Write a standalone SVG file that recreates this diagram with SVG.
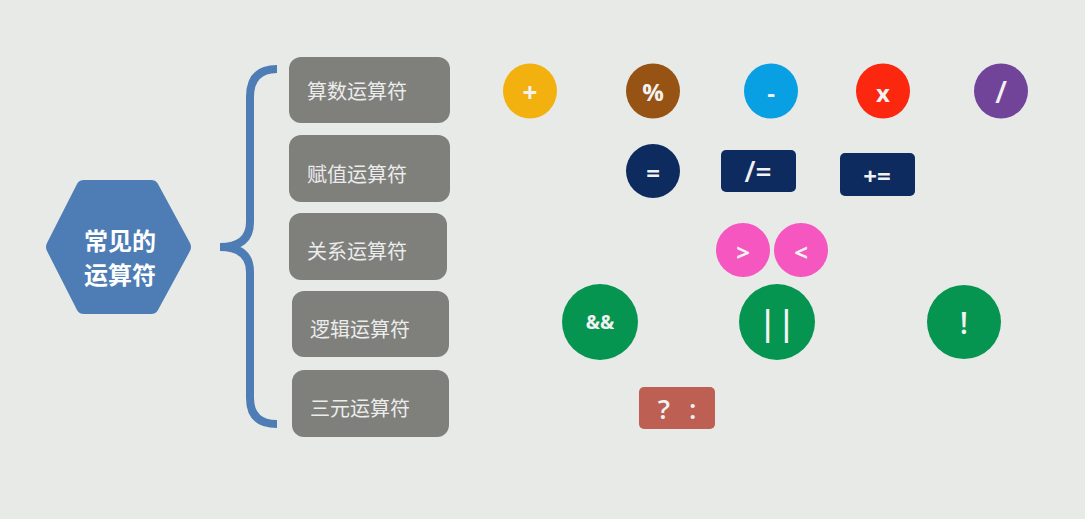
<svg xmlns="http://www.w3.org/2000/svg" width="1085" height="519" viewBox="0 0 1085 519">
<style>
.cat rect{fill:#7f807c}
.cat text{font-family:"Noto Sans CJK SC","Noto Sans",sans-serif;font-size:20px;fill:#ececec;dominant-baseline:central}
.op text{font-family:"Open Sans","Noto Sans",sans-serif;fill:#f2f2f2;text-anchor:middle;dominant-baseline:central;font-weight:bold}
.op text.thin{font-weight:600}
.hub text{font-family:"Noto Sans CJK SC",sans-serif;font-size:24px;font-weight:bold;fill:#ffffff;text-anchor:middle;dominant-baseline:central}
</style>
<rect width="1085" height="519" fill="#e8eae7"/>
<g id="hub" class="hub">
<path d="M47,251 Q45,247 47,243 L77,184 Q79,180 84,180 L151,180 Q156,180 158,184 L190,243 Q192,247 190,251 L158,310 Q156,314 151,314 L84,314 Q79,314 77,310 Z" fill="#4d7db4"/>
<text x="120" y="239">常见的</text>
<text x="120" y="273">运算符</text>
</g>
<g id="connectors">
<path d="M277,69 Q250,69 250,97 L250,222 Q250,247 220,247 Q250,247 250,272 L250,398 Q250,424 277,424" fill="none" stroke="#4d7db4" stroke-width="8"/>
</g>
<g id="cat-arith" class="cat"><rect x="289" y="57" width="161" height="66" rx="12"/><text x="307" y="90">算数运算符</text></g>
<g id="cat-assign" class="cat"><rect x="289" y="135" width="161" height="67" rx="12"/><text x="307" y="173">赋值运算符</text></g>
<g id="cat-rel" class="cat"><rect x="289" y="213" width="158" height="67" rx="12"/><text x="307" y="250">关系运算符</text></g>
<g id="cat-logic" class="cat"><rect x="292" y="291" width="157" height="66" rx="12"/><text x="310" y="328">逻辑运算符</text></g>
<g id="cat-ternary" class="cat"><rect x="292" y="370" width="157" height="67" rx="12"/><text x="310" y="407">三元运算符</text></g>
<g id="op-plus" class="op"><ellipse cx="530" cy="91" rx="27" ry="27.5" fill="#f2b10f"/><text x="530" y="92" font-size="26">+</text></g>
<g id="op-mod" class="op"><ellipse cx="653" cy="91" rx="27" ry="27.5" fill="#975313"/><text x="653" y="91" font-size="24">%</text></g>
<g id="op-minus" class="op"><ellipse cx="771" cy="91" rx="27" ry="27.5" fill="#08a0e2"/><text x="771" y="92" font-size="24">-</text></g>
<g id="op-mul" class="op"><ellipse cx="883" cy="91" rx="27" ry="27.5" fill="#fb270f"/><text x="883" y="92" font-size="24">x</text></g>
<g id="op-div" class="op"><ellipse cx="1001" cy="91" rx="27" ry="27.5" fill="#724499"/><text class="thin" x="1001" y="91" font-size="30">/</text></g>
<g id="op-eq" class="op"><ellipse cx="653" cy="171" rx="27" ry="27" fill="#0d2b5e"/><text x="653" y="172" font-size="24">=</text></g>
<g id="op-diveq" class="op"><rect x="721" y="150" width="75" height="42" rx="5" fill="#0d2b5e"/><text class="thin" x="758" y="171" font-size="28">/=</text></g>
<g id="op-pluseq" class="op"><rect x="840" y="153" width="75" height="43" rx="5" fill="#0d2b5e"/><text x="877" y="175" font-size="24">+=</text></g>
<g id="op-gt" class="op"><circle cx="743" cy="250" r="27" fill="#f656c0"/><text x="743" y="251" font-size="24">&gt;</text></g>
<g id="op-lt" class="op"><circle cx="801" cy="250" r="27" fill="#f656c0"/><text x="801" y="251" font-size="24">&lt;</text></g>
<g id="op-and" class="op"><circle cx="600" cy="322" r="38" fill="#069451"/><text x="600" y="322" font-size="19">&amp;&amp;</text></g>
<g id="op-or" class="op"><circle cx="777" cy="322" r="38" fill="#069451"/><text class="thin" x="777" y="322" font-size="34">||</text></g>
<g id="op-not" class="op"><circle cx="964" cy="322" r="37" fill="#069451"/><text class="thin" x="964" y="322" font-size="30">!</text></g>
<g id="op-ternary" class="op"><rect x="639" y="387" width="76" height="42" rx="5" fill="#bd5f52"/><text class="thin" x="677" y="408" font-size="27" letter-spacing="6" dx="3">? :</text></g>
</svg>
